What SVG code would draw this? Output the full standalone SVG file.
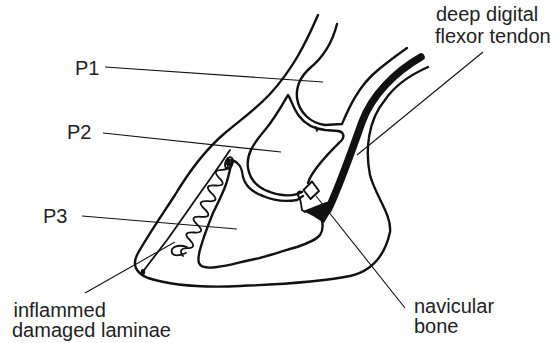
<svg xmlns="http://www.w3.org/2000/svg" width="551" height="343" viewBox="0 0 551 343">
  <style>
    .ink { fill: none; stroke: #111; stroke-width: 2.4; stroke-linecap: round; stroke-linejoin: round; }
    .fine { fill: none; stroke: #111; stroke-width: 1.8; stroke-linecap: round; stroke-linejoin: round; }
    .leader { fill: none; stroke: #111; stroke-width: 1.1; }
    .lbl { font-family: "Liberation Sans", Arial, Helvetica, sans-serif; font-size: 20px; fill: #222; }
  </style>
  <rect width="551" height="343" fill="#fff"/>

  <!-- hoof capsule: front of pastern, toe, sole and heel bulb -->
  <g id="hoof">
    <path class="ink" d="M318,15 C305,45 292,70 270,94 C255,110 238,122 225,133 C205,150 190,170 175,195 C160,218 145,240 137,255 C132,265 136,273 148,278 C170,285 200,288 240,286 C290,284 330,280 350,276 C372,271 385,255 390,232 C392,215 375,195 370,175 C365,150 368,120 385,100 C395,85 410,75 428,67"/>
    <!-- inner surface of the wall -->
    <path class="fine" d="M230,150 C222,162 215,172 208,182 C195,200 180,222 167,240 C158,252 150,262 142,273"/>
    <ellipse cx="143" cy="272" rx="2.2" ry="3" fill="#111"/>
  </g>

  <!-- laminae between wall and pedal bone -->
  <g id="laminae">
    <path class="fine" d="M226,162 Q231.5,169.1 222.4,169.8 Q211.5,169.7 218.8,177.7 Q228,186.4 215.3,185.5 Q202.5,184.6 211.7,193.3 Q220.9,202.1 208.1,201.2 Q195.3,200.2 204.5,209 Q213.7,217.8 200.9,216.8 Q188.1,215.9 197.3,224.7 Q206.5,233.4 193.8,232.5 Q181,231.6 190.2,240.3 Q197.5,248.3 186.6,248.2 Q177.5,248.9 183,256"/>
    <path class="fine" d="M187,247 C178,244 170,247 172,253 C174,257 181,255 186,253"/>
    <ellipse cx="229" cy="163" rx="3.6" ry="6" transform="rotate(20 229 163)" fill="none" stroke="#111" stroke-width="2"/>
    <path d="M227,159 L231,159 L230,166 L226,165 Z" fill="#111"/>
  </g>

  <!-- first phalanx -->
  <g id="p1">
    <path class="ink" d="M337,24 C333,40 326,55 310,68 C300,77 296,88 297,98 C299,112 310,123 325,125 L342,124 C348,110 358,86 378,70 C390,60 400,53 407,48"/>
  </g>

  <!-- second phalanx -->
  <g id="p2">
    <path class="ink" d="M302,192 C295,196 282,197 270,192 C258,188 250,180 248,168 C246,155 253,144 265,130 C275,118 284,102 288,95 C291,99 293,108 299,116 C305,124 315,129 325,130 L338,131 C344,132 345,137 341,141 C333,149 318,163 310,178 L308,183"/>
    <path class="fine" d="M316,127 L317,131"/>
  </g>

  <!-- pedal bone -->
  <g id="p3">
    <path class="ink" d="M232,160 C238,162 242,166 243,177 C245,185 252,192 263,196 C272,200 285,202 297,200 L303,196"/>
    <path class="ink" d="M232,160 C230,170 228,180 225,187 C221,197 217,205 213,213 C209,223 205,233 202,243 C200,250 197,257 199,263 C201,268 210,268 217,267 C228,266 240,262 255,259 C270,256 285,250 297,247 C308,243 316,240 320,235 C323,231 323,226 322,221"/>
    <path class="fine" d="M302,192 C298,190 296,194 299,197 C301,200 301,205 302,210 L305,212"/>
  </g>

  <!-- navicular bone -->
  <g id="navicular">
    <path d="M312,181.5 L319,191 L310.5,199 L303.5,190 Z" fill="#fff" stroke="#111" stroke-width="2" stroke-linejoin="round"/>
  </g>

  <!-- deep digital flexor tendon and its insertion -->
  <g id="tendon">
    <path d="M421,57 C395,72 372,95 362,122 C352,150 340,185 328,210" fill="none" stroke="#111" stroke-width="7.5" stroke-linecap="round"/>
    <path d="M303,211 L326,202 L334,201 L331,211 L324,223 L313,216 Z" fill="#111"/>
  </g>

  <!-- leader lines -->
  <g id="leaders">
    <line class="leader" x1="105" y1="67" x2="323" y2="82"/>
    <line class="leader" x1="103" y1="133" x2="281" y2="152"/>
    <line class="leader" x1="82" y1="216" x2="237" y2="229"/>
    <line class="leader" x1="483" y1="52" x2="357" y2="155"/>
    <line class="leader" x1="316" y1="196" x2="405" y2="308"/>
    <line class="leader" x1="85" y1="293" x2="175" y2="242"/>
  </g>

  <!-- labels -->
  <g id="label-p1"><text class="lbl" x="75" y="75">P1</text></g>
  <g id="label-p2"><text class="lbl" x="67" y="139">P2</text></g>
  <g id="label-p3"><text class="lbl" x="43" y="223">P3</text></g>
  <g id="label-tendon">
    <text class="lbl" x="436" y="21">deep digital</text>
    <text class="lbl" x="435" y="43">flexor tendon</text>
  </g>
  <g id="label-navicular">
    <text class="lbl" x="414" y="313">navicular</text>
    <text class="lbl" x="414" y="333">bone</text>
  </g>
  <g id="label-laminae">
    <text class="lbl" x="13.5" y="317">inflammed</text>
    <text class="lbl" x="12" y="337">damaged laminae</text>
  </g>
</svg>
